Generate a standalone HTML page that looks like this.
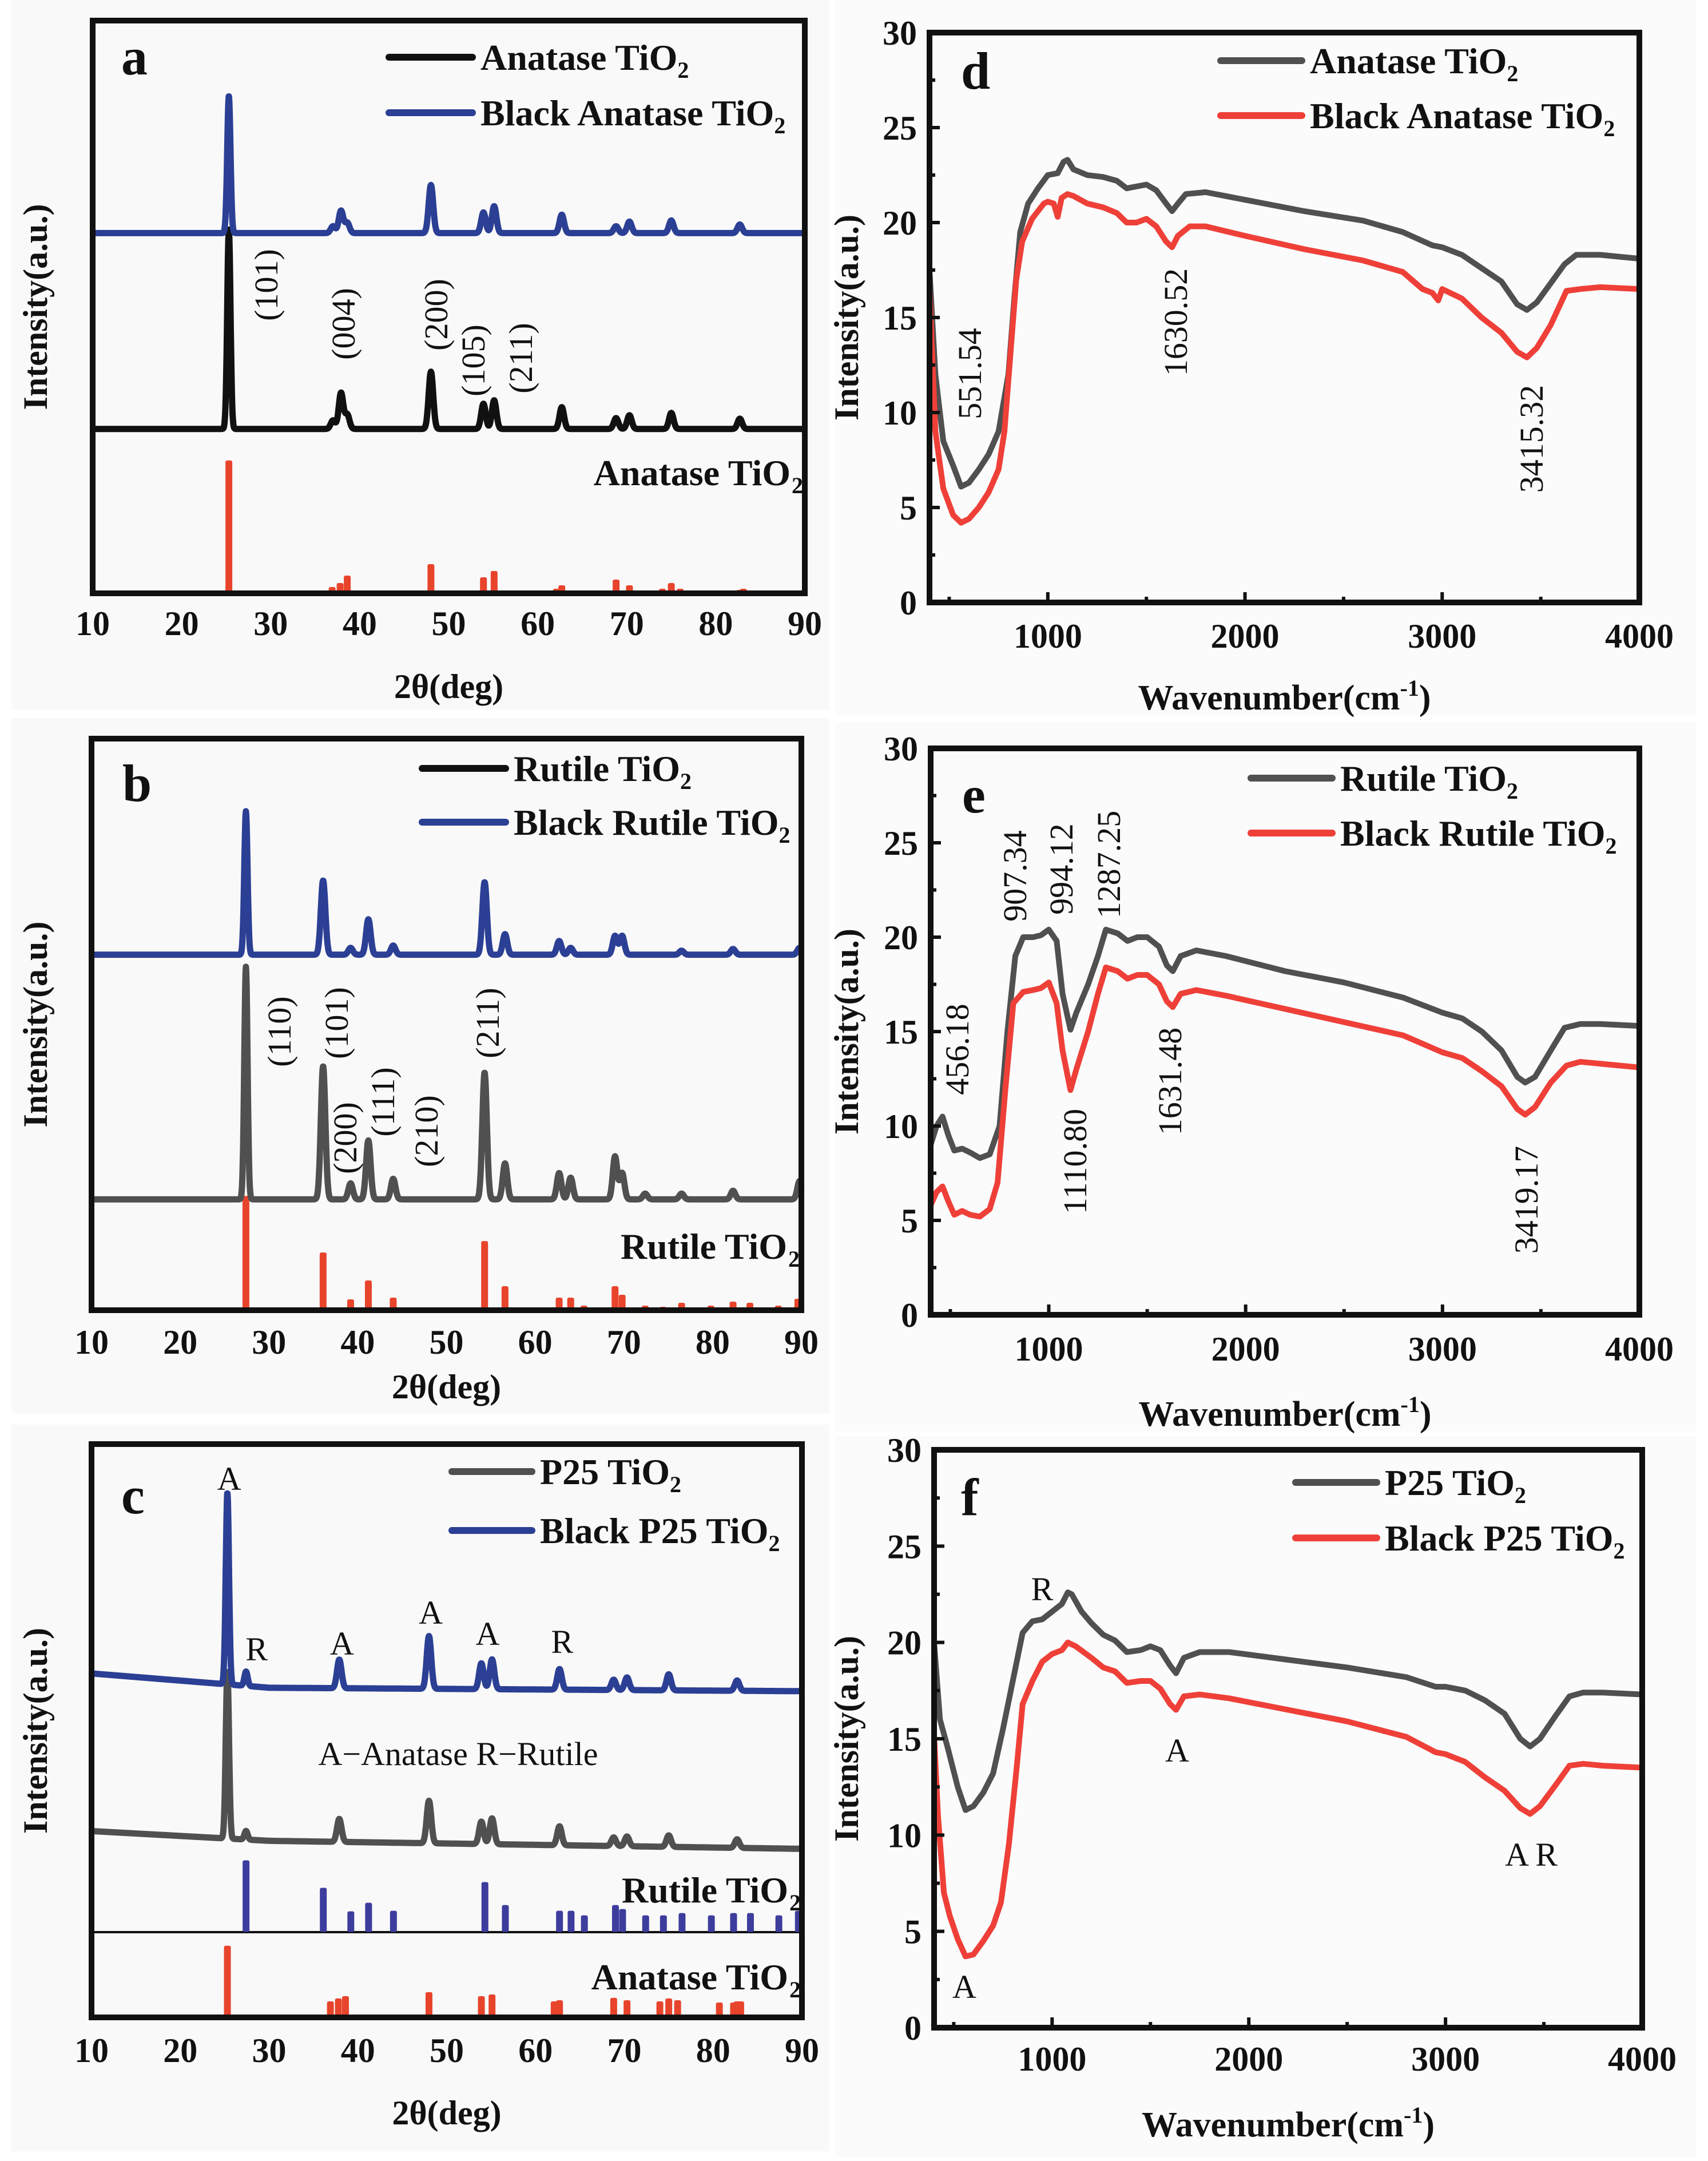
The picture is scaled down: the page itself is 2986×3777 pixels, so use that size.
<!DOCTYPE html>
<html><head><meta charset="utf-8"><title>XRD and FTIR of TiO2</title>
<style>
html,body{margin:0;padding:0;background:#fff;}
svg{display:block;}
text{font-family:"Liberation Serif",serif;}
</style></head>
<body>
<svg id="fig" xmlns="http://www.w3.org/2000/svg" width="2986" height="3777" viewBox="0 0 2986 3777">
<rect x="0" y="0" width="2986" height="3777" fill="#ffffff"/>
<rect x="20" y="0" width="1430" height="1240" fill="#f9f9f9"/>
<rect x="20" y="1255" width="1430" height="1215" fill="#f9f9f9"/>
<rect x="20" y="2490" width="1430" height="1270" fill="#f9f9f9"/>
<rect x="1460" y="0" width="1505" height="1250" fill="#fbfbfb"/>
<rect x="1460" y="1262" width="1505" height="1240" fill="#fbfbfb"/>
<rect x="1460" y="2510" width="1505" height="1260" fill="#fbfbfb"/>
</svg>
<script>
// ---------- XRD data (2θ in deg, intensity in % of plot height) ----------
const aBlueBase=[[10,62.9],[90,62.9]];
const aBluePos=[25.3,37.0,37.9,38.6,48.0,53.9,55.1,62.7,68.8,70.3,75.0,82.7];
const aBlueH=[24,1.2,3.9,1.8,8.4,3.6,4.7,3.2,1.2,2.0,2.2,1.5];
const aBlackBase=[[10,28.7],[90,28.7]];
const aBlackPos=[25.3,37.0,37.9,38.6,48.0,53.9,55.1,62.7,68.8,70.3,75.0,82.7];
const aBlackH=[35,1.5,6.3,2.5,10,4.4,5.0,3.8,1.9,2.4,2.8,1.8];
const aStickPos=[25.3,36.9,37.8,38.6,48.0,53.9,55.1,62.1,62.7,68.8,70.3,74.0,75.0,76.0,80.7,82.7,83.1];
const aStickH=[23.2,1.1,1.8,3.1,5.1,2.8,3.9,0.8,1.4,2.4,1.4,0.8,1.8,0.8,0.5,0.6,0.8];

const bBlueBase=[[10,62.2],[90,62.2]];
const bBluePos=[27.4,36.1,39.2,41.2,44.0,54.3,56.6,62.7,64.0,69.0,69.8,76.5,82.3,89.8];
const bBlueH=[25.1,13,1.2,6.2,1.6,12.7,3.6,2.4,1.2,3.3,3.3,0.7,1.0,1.2];
const bGrayBase=[[10,19.4],[90,19.4]];
const bGrayPos=[27.4,36.1,39.2,41.2,44.0,54.3,56.6,62.7,64.0,69.0,69.8,72.4,76.5,82.3,89.8];
const bGrayH=[40.7,23.3,2.8,10.3,3.6,22.2,6.3,4.6,3.8,7.5,4.6,1.0,1.0,1.5,3.2];
const bStickPos=[27.4,36.1,39.2,41.2,44.0,54.3,56.6,62.7,64.0,65.5,69.0,69.8,72.4,74.4,76.5,79.8,82.3,84.2,87.4,89.6];
const bStickH=[20,10.1,1.9,5.2,2.2,12.1,4.2,2.2,2.2,0.8,4.2,2.7,0.8,0.6,1.3,0.8,1.5,1.3,0.8,2.0];

const cBlueBase=[[10,60.0],[30,57.5],[90,56.9]];
const cBluePos=[25.3,27.4,37.9,48.0,53.9,55.1,62.7,68.8,70.3,75.0,82.7];
const cBlueH=[33.5,2.5,5,9.2,4.5,5.2,3.6,1.8,2.2,2.8,1.8];
const cGrayBase=[[10,32.5],[30,30.8],[90,29.4]];
const cGrayPos=[25.3,27.4,37.9,48.0,53.9,55.1,62.7,68.8,70.3,75.0,82.7];
const cGrayH=[29.2,1.5,4,7.4,3.9,4.5,3.3,1.5,1.7,2.0,1.5];
const cRutPos=[27.4,36.1,39.2,41.2,44.0,54.3,56.6,62.7,64.0,65.5,69.0,69.8,72.4,74.4,76.5,79.8,82.3,84.2,87.4,89.6];
const cRutH=[12.5,7.7,3.6,5.1,3.7,8.7,4.7,3.7,3.7,2.9,4.7,4.0,2.9,2.9,3.3,2.9,3.3,3.3,2.9,3.7];
const cAnaPos=[25.3,36.9,37.8,38.6,48.0,53.9,55.1,62.1,62.7,68.8,70.3,74.0,75.0,76.0,80.7,82.3,82.7,83.1];
const cAnaH=[12.5,2.8,3.3,3.7,4.4,3.7,4.0,2.8,3.0,3.4,3.0,2.8,3.3,3.0,2.6,2.6,2.8,2.8];

const xrdTicks=[10,20,30,40,50,60,70,80,90];

// ---------- FTIR data (wavenumber, intensity) ----------
const dGrayX=[400,430,470,520,560,600,650,700,750,800,830,860,900,950,1000,1050,1080,1100,1130,1200,1280,1350,1400,1450,1500,1550,1600,1630,1660,1700,1800,2000,2300,2600,2800,2950,3000,3100,3200,3300,3380,3430,3480,3550,3620,3680,3800,4000];
const dGrayY=[17.5,12,8.5,7.2,6.1,6.3,7.0,7.8,9.0,12,16,19.5,21,21.8,22.5,22.6,23.2,23.3,22.8,22.5,22.4,22.2,21.8,21.9,22.0,21.7,21.0,20.6,21.0,21.5,21.6,21.2,20.6,20.1,19.5,18.8,18.7,18.3,17.6,16.9,15.7,15.4,15.8,16.8,17.8,18.3,18.3,18.1];
const dRedX=[400,430,470,520,560,600,650,700,750,780,810,840,870,920,980,1000,1030,1050,1070,1100,1130,1200,1280,1350,1400,1450,1500,1550,1600,1630,1660,1720,1800,2000,2300,2600,2800,2900,2950,2980,3000,3100,3200,3300,3380,3430,3480,3550,3630,3700,3800,4000];
const dRedY=[16.5,9,6,4.6,4.2,4.4,5.0,5.8,7.0,9,13,17,19,20.2,21.0,21.1,21.0,20.3,21.3,21.5,21.4,21.0,20.8,20.5,20.0,20.0,20.2,19.8,19.0,18.7,19.3,19.8,19.8,19.3,18.6,18.0,17.4,16.5,16.3,15.9,16.5,16.0,15.0,14.2,13.2,12.9,13.4,14.6,16.4,16.5,16.6,16.5];

const eGrayX=[400,430,460,490,520,560,600,650,700,750,790,830,870,920,960,1000,1040,1070,1110,1140,1200,1250,1290,1350,1400,1450,1500,1560,1600,1630,1670,1750,1900,2200,2500,2800,3000,3100,3200,3300,3380,3420,3470,3550,3620,3700,3800,4000];
const eGrayY=[9,10,10.5,9.5,8.7,8.8,8.6,8.3,8.5,10,15,19,20,20.0,20.1,20.4,19.8,17,15.1,16,17.5,19,20.4,20.2,19.8,20.0,20.0,19.5,18.5,18.2,19.0,19.3,19.0,18.2,17.6,16.8,16.0,15.7,15.0,14.0,12.6,12.3,12.6,14.0,15.2,15.4,15.4,15.3];
const eRedX=[400,430,460,490,520,560,600,650,700,740,780,820,870,920,960,1000,1040,1070,1110,1140,1200,1250,1290,1350,1400,1450,1500,1560,1600,1630,1670,1750,1900,2200,2500,2800,3000,3100,3200,3300,3380,3420,3470,3550,3630,3700,3800,4000];
const eRedY=[5.8,6.5,6.8,6.0,5.3,5.5,5.3,5.2,5.6,7,12,16.5,17.1,17.2,17.3,17.6,16.5,14,11.9,13,15,17,18.4,18.2,17.8,18.0,18.0,17.5,16.6,16.3,17.0,17.2,16.9,16.2,15.5,14.8,13.9,13.6,12.9,12.1,10.9,10.6,11.0,12.3,13.2,13.4,13.3,13.1];

const fGrayX=[400,430,470,520,560,600,650,700,750,800,850,900,950,1000,1050,1080,1100,1150,1200,1260,1320,1380,1450,1500,1550,1600,1630,1670,1750,1900,2200,2500,2800,2950,3000,3100,3200,3300,3380,3430,3480,3560,3630,3700,3800,4000];
const fGrayY=[20,16,14.5,12.5,11.3,11.5,12.2,13.2,15.5,18,20.5,21.1,21.2,21.6,22.0,22.6,22.5,21.6,21.0,20.4,20.1,19.5,19.6,19.8,19.6,18.8,18.4,19.2,19.5,19.5,19.1,18.7,18.2,17.7,17.7,17.5,17.0,16.3,15.0,14.6,15.0,16.2,17.2,17.4,17.4,17.3];
const fRedX=[400,420,450,480,520,560,600,650,700,740,780,820,850,900,950,1000,1050,1080,1120,1200,1260,1320,1380,1450,1500,1550,1600,1630,1670,1750,1900,2200,2500,2800,2950,3000,3100,3200,3300,3380,3430,3480,3560,3630,3700,3800,4000];
const fRedY=[15.2,11,7,5.8,4.6,3.7,3.8,4.5,5.3,6.5,9.5,13.5,16.8,18,19.0,19.4,19.6,20,19.8,19.2,18.7,18.5,17.9,18.0,18.0,17.6,16.8,16.5,17.2,17.3,17.1,16.5,15.9,15.1,14.3,14.2,13.8,13.0,12.3,11.4,11.1,11.5,12.6,13.6,13.7,13.6,13.5];

const ftirXTicks=[1000,2000,3000,4000];
const ftirYTicks=[0,5,10,15,20,25,30];

// ---------- helpers ----------
const NS='http://www.w3.org/2000/svg';
const svg=document.getElementById('fig');
function mk(tag,attrs,parent){
  const el=document.createElementNS(NS,tag);
  for(const k in attrs) el.setAttribute(k,attrs[k]);
  (parent||svg).appendChild(el);
  return el;
}
function txt(str,x,y,size,opts,parent){
  opts=opts||{};
  const el=mk('text',{x:x,y:y,'font-size':size,'font-weight':opts.bold?'bold':'normal','text-anchor':opts.anchor||'start',fill:opts.fill||'#111'},parent);
  if(opts.rot!==undefined) el.setAttribute('transform','rotate('+opts.rot+' '+x+' '+y+')');
  if(opts.sub){
    el.appendChild(document.createTextNode(str));
    const t=document.createElementNS(NS,'tspan');
    t.setAttribute('font-size',Math.round(size*0.62));
    t.setAttribute('dy',Math.round(size*0.22));
    t.textContent=opts.sub;
    el.appendChild(t);
  } else el.textContent=str;
  return el;
}
function interpBase(base,x){
  for(let i=0;i<base.length-1;i++){
    if(x<=base[i+1][0]){const t=(x-base[i][0])/(base[i+1][0]-base[i][0]);return base[i][1]+t*(base[i+1][1]-base[i][1]);}
  }
  return base[base.length-1][1];
}

function xrdFrame(L,T,R,B,name){
  const g=mk('g',{});
  
  
  const xs=v=>L+(v-10)/80*(R-L);
  const ys=v=>B-v/100*(B-T);
  return {g,xs,ys,L,T,R,B};
}
function xrdCurve(P,base,pos,h,color,name){
  let d='';
  for(let x=10;x<=90.001;x+=0.04){
    let y=interpBase(base,x);
    for(let i=0;i<pos.length;i++){const w=pos[i]<30?0.26:0.36;y+=h[i]*Math.exp(-Math.pow((x-pos[i])/w,2));}
    d+=(d?'L':'M')+P.xs(x).toFixed(1)+','+P.ys(y).toFixed(1);
  }
  const p=mk('path',{d:d,fill:'none',stroke:color,'stroke-width':11,'stroke-linejoin':'round'},P.g);
  
  
}
function xrdSticks(P,base,pos,h,color,name){
  for(let i=0;i<pos.length;i++){
    const y0=P.ys(base), y1=P.ys(base+h[i]);
    const r=mk('rect',{x:P.xs(pos[i])-6,y:y1,width:12,height:y0-y1,fill:color,rx:3},P.g);
    
    
  }
}
function xrdAxes(P,tickY,titleY){
  const f=mk('rect',{x:P.L,y:P.T,width:P.R-P.L,height:P.B-P.T,fill:'none',stroke:'#111','stroke-width':10},P.g);
  
  
  xrdTicks.forEach(v=>{
    const t=txt(String(v),P.xs(v),tickY,60,{bold:true,anchor:'middle'},P.g);
    
    
  });
  const xt=txt('2θ(deg)',(P.L+P.R)/2,titleY,60,{bold:true,anchor:'middle'},P.g);
  
  
  const yt=txt('Intensity(a.u.)',82,(P.T+P.B)/2,60,{bold:true,anchor:'middle',rot:-90},P.g);
  
  
}
function legend(P,x1,x2,y,color,label,name){
  const l=mk('line',{x1:x1,y1:y,x2:x2,y2:y,stroke:color,'stroke-width':12,'stroke-linecap':'round'},P.g);
  
  
  const t=txt(label,x2+14,y+22,64,{bold:true,sub:'2'},P.g);
  
  
}
function panelLetter(P,ch,x,y){
  const t=txt(ch,x,y,92,{bold:true},P.g);
  
  
}
function note(P,str,x,y,size,rot,name){
  const t=txt(str,x,y,size,{anchor:'middle',rot:rot},P.g);
  
  
}

// ---------- panel a ----------
const pa=xrdFrame(162,36,1407,1037,'panel-a');
xrdSticks(pa,0,aStickPos,aStickH,'#e8442c','anatase-reference-stick');
xrdCurve(pa,aBlackBase,aBlackPos,aBlackH,'#111111','anatase-curve');
xrdCurve(pa,aBlueBase,aBluePos,aBlueH,'#2b3f94','black-anatase-curve');
xrdAxes(pa,1110,1220);
panelLetter(pa,'a',212,130);
legend(pa,680,826,100,'#111111','Anatase TiO','legend-anatase');
legend(pa,680,826,197,'#2b3f94','Black Anatase TiO','legend-black-anatase');
{const t=txt('Anatase TiO',1382,848,64,{bold:true,anchor:'end'},pa.g);
 const s=txt('2',1384,862,40,{bold:true},pa.g);}
note(pa,'(101)',485,498,58,-90,'peak-label-101');
note(pa,'(004)',620,566,58,-90,'peak-label-004');
note(pa,'(200)',782,550,58,-90,'peak-label-200');
note(pa,'(105)',847,630,58,-90,'peak-label-105');
note(pa,'(211)',930,626,58,-90,'peak-label-211');

// ---------- panel b ----------
const pb=xrdFrame(160,1291,1401,2290,'panel-b');
xrdSticks(pb,0,bStickPos,bStickH,'#e8442c','rutile-reference-stick');
xrdCurve(pb,bGrayBase,bGrayPos,bGrayH,'#505050','rutile-curve');
xrdCurve(pb,bBlueBase,bBluePos,bBlueH,'#2b3f94','black-rutile-curve');
xrdAxes(pb,2366,2444);
panelLetter(pb,'b',214,1400);
legend(pb,738,884,1343,'#111111','Rutile TiO','legend-rutile');
legend(pb,738,884,1437,'#2b3f94','Black Rutile TiO','legend-black-rutile');
{const t=txt('Rutile TiO',1376,2200,64,{bold:true,anchor:'end'},pb.g);
 const s=txt('2',1378,2214,40,{bold:true},pb.g);}
note(pb,'(110)',508,1803,58,-90,'peak-label-110');
note(pb,'(101)',608,1788,58,-90,'peak-label-101');
note(pb,'(200)',623,1989,58,-90,'peak-label-200');
note(pb,'(111)',689,1926,58,-90,'peak-label-111');
note(pb,'(210)',765,1977,58,-90,'peak-label-210');
note(pb,'(211)',872,1788,58,-90,'peak-label-211');

// ---------- panel c ----------
const pc=xrdFrame(160,2524,1402,3526,'panel-c');
{const l=mk('line',{x1:160,y1:3377,x2:1402,y2:3377,stroke:'#111','stroke-width':4},pc.g);}
xrdSticks(pc,14.9,cRutPos,cRutH,'#3d3d9e','rutile-reference-stick');
xrdSticks(pc,0,cAnaPos,cAnaH,'#e8442c','anatase-reference-stick');
xrdCurve(pc,cGrayBase,cGrayPos,cGrayH,'#505050','p25-curve');
xrdCurve(pc,cBlueBase,cBluePos,cBlueH,'#2b3f94','black-p25-curve');
xrdAxes(pc,3604,3713);
panelLetter(pc,'c',212,2645);
legend(pc,790,930,2572,'#505050','P25 TiO','legend-p25');
legend(pc,790,930,2675,'#2b3f94','Black P25 TiO','legend-black-p25');
{const t=txt('Rutile TiO',1378,3325,64,{bold:true,anchor:'end'},pc.g);
 const s=txt('2',1380,3339,40,{bold:true},pc.g);
 const t2=txt('Anatase TiO',1378,3477,64,{bold:true,anchor:'end'},pc.g);
 const s2=txt('2',1380,3491,40,{bold:true},pc.g);}
note(pc,'A',pc.xs(25.5),2604,58,undefined,'phase-label-a');
note(pc,'R',pc.xs(28.6),2902,58,undefined,'phase-label-r');
note(pc,'A',pc.xs(38.2),2892,58,undefined,'phase-label-a');
note(pc,'A',pc.xs(48.2),2838,58,undefined,'phase-label-a');
note(pc,'A',pc.xs(54.6),2875,58,undefined,'phase-label-a');
note(pc,'R',pc.xs(63.0),2889,58,undefined,'phase-label-r');
note(pc,'A−Anatase   R−Rutile',801,3085,58,undefined,'phase-key');

// ---------- FTIR panels ----------
function ftirFrame(L,T,R,B,name){
  const g=mk('g',{});
  
  
  const xs=v=>L+(v-400)/3600*(R-L);
  const ys=v=>B-v/30*(B-T);
  return {g,xs,ys,L,T,R,B};
}
function ftirLine(P,xs,ys,color,name){
  let d='';
  for(let i=0;i<xs.length;i++) d+=(i?'L':'M')+P.xs(xs[i]).toFixed(1)+','+P.ys(ys[i]).toFixed(1);
  const p=mk('path',{d:d,fill:'none',stroke:color,'stroke-width':10,'stroke-linejoin':'round','stroke-linecap':'round'},P.g);
  
  
}
function ftirAxes(P,tickY,titleY){
  const f=mk('rect',{x:P.L,y:P.T,width:P.R-P.L,height:P.B-P.T,fill:'none',stroke:'#111','stroke-width':10},P.g);
  
  
  for(let v=500;v<=3500;v+=500){
    const tk=mk('line',{x1:P.xs(v),y1:P.B,x2:P.xs(v),y2:P.B-(v%1000?10:18),stroke:'#111','stroke-width':6},P.g);
    
    
  }
  for(let v=2.5;v<30;v+=2.5){
    const tk=mk('line',{x1:P.L,y1:P.ys(v),x2:P.L+(v%5?10:18),y2:P.ys(v),stroke:'#111','stroke-width':6},P.g);
    
    
  }
  ftirXTicks.forEach(v=>{
    const t=txt(String(v),P.xs(v),tickY,60,{bold:true,anchor:'middle'},P.g);
    
    
  });
  ftirYTicks.forEach(v=>{
    const t=txt(String(v),P.L-22,P.ys(v)+21,60,{bold:true,anchor:'end'},P.g);
    
    
  });
  const xt=mk('text',{x:(P.L+P.R)/2,y:titleY,'font-size':62,'font-weight':'bold','text-anchor':'middle',fill:'#111'},P.g);
  
  
  xt.appendChild(document.createTextNode('Wavenumber(cm'));
  const sp=document.createElementNS(NS,'tspan');sp.setAttribute('dy','-24');sp.setAttribute('font-size','40');sp.textContent='-1';xt.appendChild(sp);
  const sp2=document.createElementNS(NS,'tspan');sp2.setAttribute('dy','24');sp2.textContent=')';xt.appendChild(sp2);
  const yt=txt('Intensity(a.u.)',1500,(P.T+P.B)/2,60,{bold:true,anchor:'middle',rot:-90},P.g);
  
  
}

// panel d
const pd=ftirFrame(1625,57,2866,1053,'panel-d');
ftirLine(pd,dGrayX,dGrayY,'#505050','anatase-ftir-curve');
ftirLine(pd,dRedX,dRedY,'#ee4038','black-anatase-ftir-curve');
ftirAxes(pd,1132,1240);
panelLetter(pd,'d',1680,155);
legend(pd,2134,2276,106,'#505050','Anatase TiO','legend-anatase');
legend(pd,2134,2276,202,'#ee4038','Black Anatase TiO','legend-black-anatase');
note(pd,'551.54',1715,653,58,-90,'peak-label-551');
note(pd,'1630.52',2075,563,58,-90,'peak-label-1630');
note(pd,'3415.32',2697,767,58,-90,'peak-label-3415');

// panel e
const pe=ftirFrame(1627,1308,2866,2298,'panel-e');
ftirLine(pe,eGrayX,eGrayY,'#505050','rutile-ftir-curve');
ftirLine(pe,eRedX,eRedY,'#ee4038','black-rutile-ftir-curve');
ftirAxes(pe,2378,2492);
panelLetter(pe,'e',1682,1420);
legend(pe,2187,2329,1360,'#505050','Rutile TiO','legend-rutile');
legend(pe,2187,2329,1456,'#ee4038','Black Rutile TiO','legend-black-rutile');
note(pe,'456.18',1693,1834,58,-90,'peak-label-456');
note(pe,'907.34',1794,1531,58,-90,'peak-label-907');
note(pe,'994.12',1875,1519,58,-90,'peak-label-994');
note(pe,'1287.25',1958,1511,58,-90,'peak-label-1287');
note(pe,'1110.80',1899,2030,58,-90,'peak-label-1110');
note(pe,'1631.48',2065,1890,58,-90,'peak-label-1631');
note(pe,'3419.17',2688,2097,58,-90,'peak-label-3419');

// panel f
const pf=ftirFrame(1633,2534,2871,3544,'panel-f');
ftirLine(pf,fGrayX,fGrayY,'#505050','p25-ftir-curve');
ftirLine(pf,fRedX,fRedY,'#ee4038','black-p25-ftir-curve');
ftirAxes(pf,3619,3734);
panelLetter(pf,'f',1680,2648);
legend(pf,2265,2407,2591,'#505050','P25 TiO','legend-p25');
legend(pf,2265,2407,2688,'#ee4038','Black P25 TiO','legend-black-p25');
note(pf,'R',1822,2797,58,undefined,'phase-label-r');
note(pf,'A',2058,3079,58,undefined,'phase-label-a');
note(pf,'A',1686,3492,58,undefined,'phase-label-a');
note(pf,'A R',2677,3261,58,undefined,'phase-label-ar');
</script>
</body></html>
